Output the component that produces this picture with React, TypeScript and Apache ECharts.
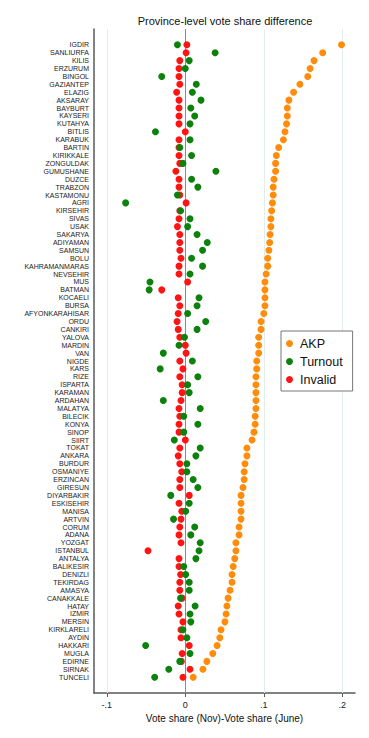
import React, { useEffect, useRef } from "react";
import * as echarts from "echarts";

const provinces: string[] = [
  "IGDIR", "SANLIURFA", "KILIS", "ERZURUM", "BINGOL", "GAZIANTEP", "ELAZIG", "AKSARAY", "BAYBURT", "KAYSERI",
  "KUTAHYA", "BITLIS", "KARABUK", "BARTIN", "KIRIKKALE", "ZONGULDAK", "GUMUSHANE", "DUZCE", "TRABZON", "KASTAMONU",
  "AGRI", "KIRSEHIR", "SIVAS", "USAK", "SAKARYA", "ADIYAMAN", "SAMSUN", "BOLU", "KAHRAMANMARAS", "NEVSEHIR",
  "MUS", "BATMAN", "KOCAELI", "BURSA", "AFYONKARAHISAR", "ORDU", "CANKIRI", "YALOVA", "MARDIN", "VAN",
  "NIGDE", "KARS", "RIZE", "ISPARTA", "KARAMAN", "ARDAHAN", "MALATYA", "BILECIK", "KONYA", "SINOP",
  "SIIRT", "TOKAT", "ANKARA", "BURDUR", "OSMANIYE", "ERZINCAN", "GIRESUN", "DIYARBAKIR", "ESKISEHIR", "MANISA",
  "ARTVIN", "CORUM", "ADANA", "YOZGAT", "ISTANBUL", "ANTALYA", "BALIKESIR", "DENIZLI", "TEKIRDAG", "AMASYA",
  "CANAKKALE", "HATAY", "IZMIR", "MERSIN", "KIRKLARELI", "AYDIN", "HAKKARI", "MUGLA", "EDIRNE", "SIRNAK",
  "TUNCELI",
];

const akp: number[] = [
  0.199, 0.175, 0.164, 0.159, 0.156, 0.146, 0.138, 0.132, 0.130, 0.130,
  0.129, 0.127, 0.125, 0.119, 0.116, 0.115, 0.115, 0.113, 0.112, 0.112,
  0.111, 0.110, 0.109, 0.109, 0.108, 0.1075, 0.1065, 0.105, 0.105, 0.103,
  0.1015, 0.1015, 0.1015, 0.1015, 0.100, 0.0965, 0.0965, 0.0935, 0.0935, 0.0935,
  0.091, 0.091, 0.090, 0.090, 0.090, 0.090, 0.090, 0.089, 0.089, 0.0875,
  0.085, 0.0785, 0.0785, 0.076, 0.075, 0.075, 0.0735, 0.071, 0.071, 0.071,
  0.071, 0.0685, 0.0685, 0.0645, 0.0645, 0.063, 0.061, 0.0595, 0.0595, 0.057,
  0.0545, 0.053, 0.052, 0.0505, 0.0455, 0.044, 0.0405, 0.035, 0.0275, 0.0225,
  0.010,
];

const turnout: number[] = [
  -0.010, 0.038, 0.005, 0.000, -0.030, 0.014, 0.009, 0.020, 0.007, 0.012,
  0.006, -0.038, 0.006, -0.007, 0.008, -0.003, 0.039, 0.008, 0.016, -0.010,
  -0.076, -0.006, 0.006, 0.003, 0.015, 0.028, 0.022, 0.008, 0.022, 0.006,
  -0.045, -0.046, 0.0175, 0.015, 0.003, 0.026, 0.015, -0.001, -0.008, -0.028,
  0.009, -0.032, 0.016, 0.003, 0.005, -0.028, 0.019, -0.002, 0.016, -0.002,
  -0.014, 0.019, 0.0135, 0.002, 0.002, 0.010, 0.016, -0.0185, 0.005, 0.0005,
  -0.015, 0.012, 0.007, 0.019, 0.0175, 0.0135, -0.002, 0.0005, 0.005, 0.005,
  -0.006, 0.0125, 0.006, 0.007, -0.003, 0.002, -0.0505, 0.006, -0.007, -0.021,
  -0.039,
];

const invalid: number[] = [
  0.002, 0.001, -0.007, -0.008, -0.008, -0.007, -0.011, -0.008, -0.008, -0.008,
  -0.008, 0.000, -0.008, -0.008, -0.008, -0.007, -0.012, -0.008, -0.008, -0.007,
  0.001, -0.007, -0.008, -0.010, -0.007, -0.007, -0.007, -0.0055, -0.008, -0.008,
  0.003, -0.030, -0.009, -0.007, -0.009, -0.0105, -0.009, -0.007, 0.000, 0.001,
  -0.007, -0.003, -0.007, -0.004, -0.004, -0.0055, -0.008, -0.007, -0.008, -0.008,
  0.000, -0.007, -0.009, -0.007, -0.0045, -0.007, -0.007, 0.005, -0.008, -0.0045,
  -0.0055, -0.007, -0.008, -0.0055, -0.0475, -0.008, -0.008, -0.006, -0.007, -0.007,
  -0.004, -0.009, -0.008, -0.003, -0.0055, -0.0055, 0.005, -0.004, -0.005, 0.006,
  -0.003,
];

const xTicks: number[] = [-0.1, 0, 0.1, 0.2];

const FONT = "'Liberation Sans', Arial, Helvetica, sans-serif";

export default function App() {
  const ref = useRef<HTMLDivElement>(null);
  useEffect(() => {
    if (!ref.current) return;
    const chart = echarts.init(ref.current, undefined, { renderer: "svg" });
    const toPts = (arr: number[]) => arr.map((v, i) => [v, i]);
    const fmt = (v: number) => {
      if (Math.abs(v) < 1e-9) return "0";
      const s = String(Math.round(v * 10) / 10);
      return s.replace("0.", ".");
    };
    const axisColor = "#5a5a5a";
    const option: any = {
      animation: false,
      backgroundColor: "#ffffff",
      textStyle: { fontFamily: FONT },
      title: {
        text: "Province-level vote share difference",
        left: 220,
        top: 10,
        textAlign: "center",
        textStyle: { fontFamily: FONT, fontSize: 11, fontWeight: "normal", color: "#111" },
      },
      legend: {
        orient: "vertical",
        left: 281,
        top: 331,
        data: ["AKP", "Turnout", "Invalid"],
        icon: "circle",
        itemWidth: 7,
        itemHeight: 7,
        itemGap: 5,
        padding: [6, 10, 5, 5],
        backgroundColor: "#ffffff",
        borderColor: "#777",
        borderWidth: 1,
        textStyle: { fontFamily: FONT, fontSize: 12.5, color: "#111", lineHeight: 13, padding: [0, 0, 0, 2] },
      },
      grid: { left: 94, right: 14, top: 29, bottom: 45, containLabel: false },
      xAxis: {
        type: "value",
        min: -0.1163,
        max: 0.2162,
        name: "Vote share (Nov)-Vote share (June)",
        nameLocation: "middle",
        nameGap: 19,
        nameTextStyle: { fontFamily: FONT, fontSize: 10, color: "#111" },
        axisLine: { show: true, onZero: false, lineStyle: { color: axisColor, width: 1.5 } },
        axisTick: { show: true, length: 4, customValues: xTicks, lineStyle: { color: axisColor, width: 1 } },
        axisLabel: { customValues: xTicks, formatter: fmt, fontFamily: FONT, fontSize: 9, color: "#222", margin: 7 },
        splitLine: { show: false },
      },
      yAxis: {
        type: "value",
        inverse: true,
        min: -2,
        max: 82,
        interval: 1,
        axisLine: { show: true, onZero: false, lineStyle: { color: axisColor, width: 1.5 } },
        axisTick: { show: false },
        splitLine: { show: false },
        axisLabel: {
          fontFamily: FONT,
          fontSize: 7,
          color: "#222",
          margin: 5,
          formatter: (v: number) => provinces[Math.round(v)] ?? "",
        },
      },
      series: [
        {
          name: "Invalid",
          type: "scatter",
          data: toPts(invalid),
          symbol: "circle",
          symbolSize: 7,
          itemStyle: { color: "#ff1414", opacity: 1 },
          emphasis: { disabled: true },
          z: 2,
          markLine: {
            silent: true,
            symbol: ["none", "none"],
            label: { show: false },
            z: 1,
            data: xTicks.map((t) => ({
              xAxis: t,
              lineStyle: t === 0 ? { color: "#8c8c8c", width: 1, type: "solid" } : { color: "#e2eded", width: 1, type: "solid" },
            })),
          },
        },
        {
          name: "Turnout",
          type: "scatter",
          data: toPts(turnout),
          symbol: "circle",
          symbolSize: 7,
          itemStyle: { color: "#0c820c", opacity: 1 },
          emphasis: { disabled: true },
          z: 3,
        },
        {
          name: "AKP",
          type: "scatter",
          data: toPts(akp),
          symbol: "circle",
          symbolSize: 7,
          itemStyle: { color: "#ff8c0a", opacity: 1 },
          emphasis: { disabled: true },
          z: 4,
        },
      ],
    };
    chart.setOption(option);
    return () => chart.dispose();
  }, []);
  return <div ref={ref} style={{ position: "fixed", left: 0, top: 0, width: 369, height: 738 }} />;
}
